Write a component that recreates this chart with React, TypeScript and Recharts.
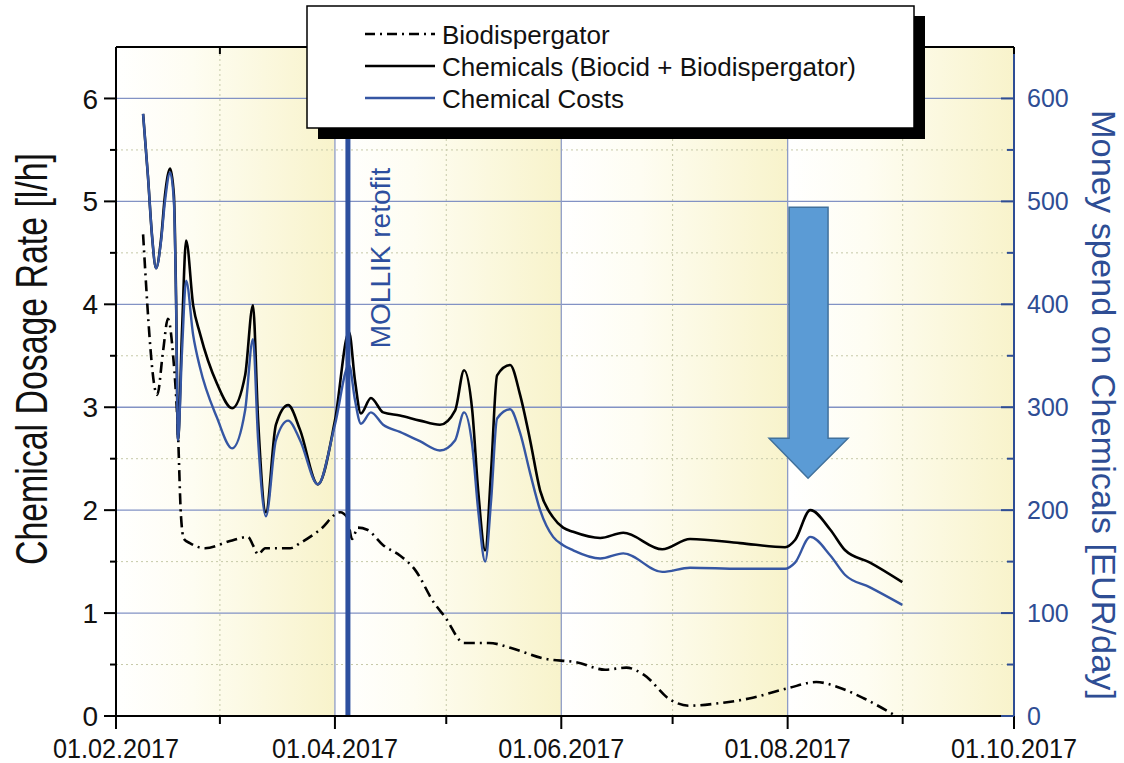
import React from 'react';
import { LineChart, Line, XAxis, YAxis, ReferenceLine, ReferenceArea, ReferenceDot, Legend } from 'recharts';

// x values are days after 01.02.2017
const bioDays = [7.3, 11.1, 12.7, 14.0, 15.4, 16.7, 17.5, 18.3, 19.9, 24.0, 30.7, 35.6, 36.9, 38.3, 40.2, 46.9, 49.6, 55.0, 60.4, 62.3, 63.6, 65.2, 67.7, 72.0, 76.5, 80.6, 85.7, 88.7, 93.8, 100.5, 106.5, 115.1, 124.3, 131.8, 137.5, 142.3, 149.3, 154.4, 161.5, 170.6, 181.1, 188.7, 194.6, 201.6, 210.2];
const bioVals = [4.68, 3.12, 3.55, 3.86, 3.5, 2.75, 1.95, 1.72, 1.68, 1.63, 1.70, 1.74, 1.66, 1.57, 1.63, 1.63, 1.68, 1.81, 1.98, 1.93, 1.72, 1.83, 1.81, 1.66, 1.56, 1.42, 1.10, 0.96, 0.71, 0.71, 0.66, 0.56, 0.52, 0.45, 0.47, 0.40, 0.16, 0.10, 0.12, 0.17, 0.27, 0.33, 0.28, 0.17, 0.0];

const chemDays = [7.3, 8.6, 9.7, 10.8, 12.1, 13.2, 14.6, 15.6, 16.2, 16.7, 17.8, 18.9, 20.8, 22.6, 27.2, 31.3, 34.8, 36.9, 38.3, 40.4, 43.1, 46.4, 49.6, 54.4, 59.0, 62.8, 64.4, 66.0, 68.7, 72.0, 76.5, 81.9, 87.3, 91.4, 93.8, 96.0, 97.6, 99.5, 101.1, 102.7, 106.2, 108.9, 111.6, 114.3, 117.8, 120.5, 123.2, 130.5, 136.7, 147.2, 154.7, 168.2, 180.3, 183.0, 187.1, 192.5, 196.5, 203.2, 211.9];
const chemVals = [5.85, 5.25, 4.67, 4.35, 4.62, 5.06, 5.32, 5.06, 4.04, 2.68, 3.75, 4.62, 3.99, 3.72, 3.23, 2.99, 3.31, 3.99, 2.87, 1.98, 2.83, 3.02, 2.78, 2.25, 2.87, 3.73, 3.26, 2.94, 3.09, 2.95, 2.92, 2.87, 2.83, 2.97, 3.36, 2.97, 2.19, 1.61, 2.39, 3.31, 3.41, 3.12, 2.68, 2.19, 1.93, 1.83, 1.79, 1.73, 1.78, 1.62, 1.72, 1.68, 1.64, 1.71, 2.0, 1.81, 1.61, 1.49, 1.30];
const costVals = [585, 525, 467, 435, 460, 500, 528, 500, 400, 268, 355, 423, 370, 339, 290, 260, 297, 366, 268, 194, 268, 287, 268, 225, 283, 341, 307, 284, 295, 283, 276, 267, 258, 268, 295, 263, 200, 150, 210, 289, 298, 275, 236, 200, 174, 166, 161, 153, 158, 140, 144, 143, 143, 149, 174, 156, 137, 125, 108];

const majorDays = [0, 59, 120, 181, 242];
const majorLabels = ['01.02.2017', '01.04.2017', '01.06.2017', '01.08.2017', '01.10.2017'];
const minorDays = [28, 89, 150, 212];
const allDays = [0, 28, 59, 89, 120, 150, 181, 212, 242];
const leftTicks = [0, 0.5, 1, 1.5, 2, 2.5, 3, 3.5, 4, 4.5, 5, 5.5, 6];
const rightTicks = [0, 50, 100, 150, 200, 250, 300, 350, 400, 450, 500, 550, 600];
const bands = [[0, 59], [59, 120], [120, 181], [181, 242]];
const retrofitDay = 62.5;
const arrowDay = 186.5;
const arrowValue = 2.31;

const bioData = bioDays.map((d, i) => ({ d, v: bioVals[i] }));
const chemData = chemDays.map((d, i) => ({ d, v: chemVals[i] }));
const costData = chemDays.map((d, i) => ({ d, v: costVals[i] }));

const FONT = '"Liberation Sans", Arial, Helvetica, sans-serif';
const BLUE = '#2e4d94';
const LINEBLUE = '#3556a3';

const LeftTick = (p: any) => {
  const { x, y, payload } = p;
  const major = Number.isInteger(payload.value);
  return (
    <g>
      <line x1={x - (major ? 12 : 6)} x2={x} y1={y} y2={y} stroke="#000" strokeWidth={2} />
      {major && (
        <text x={x - 18} y={y} dy="0.36em" textAnchor="end" fontSize={28} fontFamily={FONT} fill="#111">
          {payload.value}
        </text>
      )}
    </g>
  );
};

const RightTick = (p: any) => {
  const { x, y, payload } = p;
  const major = payload.value % 100 === 0;
  return (
    <g>
      <line x1={x - (major ? 13 : 7)} x2={x} y1={y} y2={y} stroke={BLUE} strokeWidth={2} />
      {major && (
        <text x={x + 13} y={y} dy="0.36em" textAnchor="start" fontSize={25} fontFamily={FONT} fill={BLUE}>
          {payload.value}
        </text>
      )}
    </g>
  );
};

const BottomTick = (p: any) => {
  const { x, y, payload } = p;
  const i = majorDays.indexOf(payload.value);
  const major = i >= 0;
  return (
    <g>
      <line x1={x} x2={x} y1={y} y2={y + (major ? 13 : 8)} stroke="#000" strokeWidth={2} />
      {major && (
        <text transform={`translate(${x},${y + 42}) scale(0.9,1)`} textAnchor="middle" fontSize={28} fontFamily={FONT} fill="#111">
          {majorLabels[i]}
        </text>
      )}
    </g>
  );
};

const TopTick = (p: any) => {
  const { x, y } = p;
  return <line x1={x} x2={x} y1={y} y2={y + 7} stroke="#000" strokeWidth={2} />;
};

const ArrowShape = (p: any) => {
  const { cx, cy } = p;
  const pts = [
    [cx - 19, cy - 271], [cx + 20, cy - 271], [cx + 20, cy - 40], [cx + 40, cy - 40],
    [cx, cy], [cx - 39, cy - 40], [cx - 19, cy - 40],
  ].map((q) => q.join(',')).join(' ');
  return <polygon points={pts} fill="#5b9bd5" stroke="#41719c" strokeWidth={1.5} />;
};

const LegendBox = () => (
  <svg width={640} height={145} style={{ display: 'block' }}>
    <rect x={18} y={16} width={607} height={123} fill="#000" />
    <rect x={7} y={6} width={607} height={122} fill="#fff" stroke="#000" strokeWidth={1.5} />
    <line x1={65} x2={135} y1={34} y2={34} stroke="#000" strokeWidth={2.5} strokeDasharray="10 5 2 5" />
    <line x1={65} x2={135} y1={66} y2={66} stroke="#000" strokeWidth={2.5} />
    <line x1={65} x2={135} y1={98} y2={98} stroke={LINEBLUE} strokeWidth={2.5} />
    <text x={142} y={44} fontSize={26} fontFamily={FONT} fill="#111">Biodispergator</text>
    <text x={142} y={76} fontSize={26} fontFamily={FONT} fill="#111">Chemicals (Biocid + Biodispergator)</text>
    <text x={142} y={108} fontSize={26} fontFamily={FONT} fill="#111">Chemical Costs</text>
  </svg>
);

export default function App() {
  return (
    <div style={{ position: 'absolute', left: 0, top: 0, width: 1124, height: 763, background: '#fff' }}>
      <LineChart width={1124} height={763} margin={{ top: 17, right: 0, bottom: 0, left: 0 }}>
        <defs>
          <linearGradient id="band" x1="0" y1="0" x2="1" y2="0">
            <stop offset="0" stopColor="#ffffff" />
            <stop offset="0.35" stopColor="#fefdf2" />
            <stop offset="1" stopColor="#f8f3cb" />
          </linearGradient>
        </defs>
        <XAxis xAxisId="bottom" dataKey="d" type="number" domain={[0, 242]} ticks={allDays} interval={0}
          tick={(p: any) => <BottomTick {...p} />} tickLine={false} tickSize={0} tickMargin={0} height={47}
          axisLine={{ stroke: '#000', strokeWidth: 2 }} allowDataOverflow />
        <XAxis xAxisId="top" orientation="top" dataKey="d" type="number" domain={[0, 242]} ticks={allDays} interval={0}
          tick={(p: any) => <TopTick {...p} />} tickLine={false} tickSize={0} tickMargin={0} height={30}
          axisLine={{ stroke: '#000', strokeWidth: 2 }} allowDataOverflow />
        <YAxis yAxisId="left" domain={[0, 6.5]} ticks={leftTicks} interval={0} width={116}
          tick={(p: any) => <LeftTick {...p} />} tickLine={false} tickSize={0} tickMargin={0}
          axisLine={{ stroke: '#000', strokeWidth: 2 }} allowDataOverflow
          label={{ content: () => (
            <text transform="translate(47,359) rotate(-90)" textAnchor="middle" fontSize={44} fontFamily={FONT}
              fill="#111" textLength={412} lengthAdjust="spacingAndGlyphs">Chemical Dosage Rate [l/h]</text>
          ) }} />
        <YAxis yAxisId="right" orientation="right" domain={[0, 650]} ticks={rightTicks} interval={0} width={110}
          tick={(p: any) => <RightTick {...p} />} tickLine={false} tickSize={0} tickMargin={0}
          axisLine={{ stroke: BLUE, strokeWidth: 2 }} allowDataOverflow
          label={{ content: () => (
            <text transform="translate(1092,405) rotate(90)" textAnchor="middle" fontSize={34} fontFamily={FONT}
              fill={BLUE} textLength={590} lengthAdjust="spacingAndGlyphs">Money spend on Chemicals [EUR/day]</text>
          ) }} />

        {bands.map(([a, b]) => (
          <ReferenceArea key={'b' + a} xAxisId="bottom" yAxisId="left" x1={a} x2={b} y1={0} y2={6.5}
            fill="url(#band)" fillOpacity={1} stroke="none" />
        ))}
        {leftTicks.filter((v) => v > 0 && !Number.isInteger(v)).map((v) => (
          <ReferenceLine key={'hm' + v} xAxisId="bottom" yAxisId="left" y={v} stroke="#c6c9a8" strokeWidth={1} strokeDasharray="2 3" />
        ))}
        {minorDays.map((d) => (
          <ReferenceLine key={'vm' + d} xAxisId="bottom" yAxisId="left" x={d} stroke="#c6c9a8" strokeWidth={1} strokeDasharray="2 3" />
        ))}
        {leftTicks.filter((v) => v > 0 && Number.isInteger(v)).map((v) => (
          <ReferenceLine key={'h' + v} xAxisId="bottom" yAxisId="left" y={v} stroke="#8292c4" strokeWidth={1.3} />
        ))}
        {majorDays.slice(1, 4).map((d) => (
          <ReferenceLine key={'v' + d} xAxisId="bottom" yAxisId="left" x={d} stroke="#8e9cc6" strokeWidth={1.3} />
        ))}

        <Line xAxisId="bottom" yAxisId="left" data={bioData} dataKey="v" type="monotone" stroke="#000" strokeWidth={2.6}
          strokeDasharray="11 5 2 5" dot={false} isAnimationActive={false} />
        <Line xAxisId="bottom" yAxisId="left" data={chemData} dataKey="v" type="monotone" stroke="#000" strokeWidth={2.6}
          dot={false} isAnimationActive={false} />
        <Line xAxisId="bottom" yAxisId="right" data={costData} dataKey="v" type="monotone" stroke={LINEBLUE} strokeWidth={2.4}
          dot={false} isAnimationActive={false} />

        <ReferenceLine xAxisId="bottom" yAxisId="left" x={retrofitDay} stroke="#2d4f9e" strokeWidth={5}
          label={{ content: (p: any) => (
            <text transform={`translate(${(p.viewBox?.x ?? 348) + 42},258) rotate(-90)`} textAnchor="middle"
              fontSize={28} fontFamily={FONT} fill="#2d4f9e">MOLLIK retofit</text>
          ) }} />
        <ReferenceDot xAxisId="bottom" yAxisId="left" x={arrowDay} y={arrowValue} r={0} shape={(p: any) => <ArrowShape {...p} />} />

        <Legend layout="horizontal" verticalAlign="middle" align="center" content={() => <LegendBox />}
          wrapperStyle={{ position: 'absolute', left: 300, top: 0, width: 640, height: 145 }} />
      </LineChart>
    </div>
  );
}
